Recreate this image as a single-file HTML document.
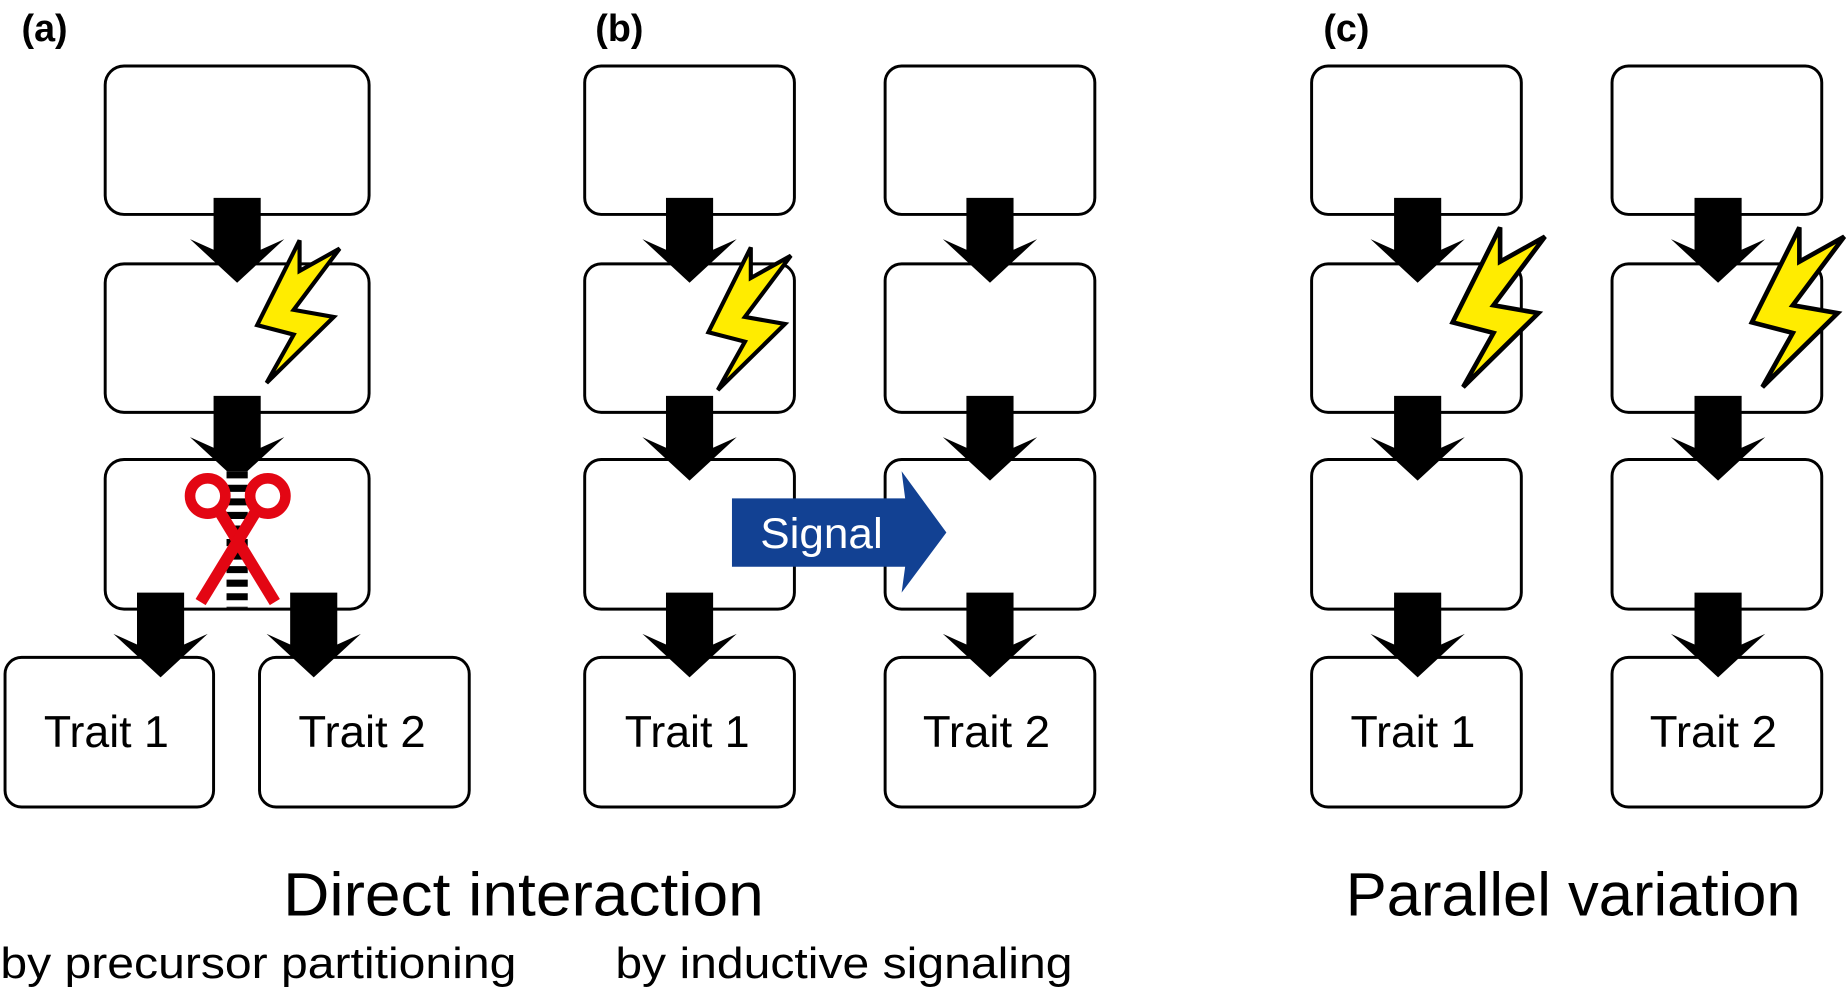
<!DOCTYPE html>
<html><head><meta charset="utf-8"><style>html,body{margin:0;padding:0;background:#fff;overflow:hidden}svg{display:block}</style></head>
<body>
<svg width="1848" height="992" viewBox="0 0 1568 842" xmlns="http://www.w3.org/2000/svg" font-family="Liberation Sans, DejaVu Sans, sans-serif">
<defs>
<polygon id="ar" points="-20,0 20,0 20,44 40,35 0,72 -40,35 -20,44" fill="#000"/>
<polygon id="lt" points="254,204 254,230 288,211 249,263 283,269 226,325 249,284 218,276" fill="#ffec00" stroke="#000" stroke-width="3.5" stroke-linejoin="miter"/>
</defs>
<g fill="#fff" stroke="#000" stroke-width="2.5">
<rect x="89" y="56" width="224" height="126" rx="16"/>
<rect x="89" y="224" width="224" height="126" rx="16"/>
<rect x="89" y="390" width="224" height="127" rx="16"/>
<rect x="4" y="558" width="177" height="127" rx="14"/>
<rect x="220" y="558" width="178" height="127" rx="14"/>
<rect x="496" y="56" width="178" height="126" rx="14"/>
<rect x="496" y="224" width="178" height="126" rx="14"/>
<rect x="496" y="390" width="178" height="127" rx="14"/>
<rect x="496" y="558" width="178" height="127" rx="14"/>
<rect x="751" y="56" width="178" height="126" rx="14"/>
<rect x="751" y="224" width="178" height="126" rx="14"/>
<rect x="751" y="390" width="178" height="127" rx="14"/>
<rect x="751" y="558" width="178" height="127" rx="14"/>
<rect x="1113" y="56" width="178" height="126" rx="14"/>
<rect x="1113" y="224" width="178" height="126" rx="14"/>
<rect x="1113" y="390" width="178" height="127" rx="14"/>
<rect x="1113" y="558" width="178" height="127" rx="14"/>
<rect x="1368" y="56" width="178" height="126" rx="14"/>
<rect x="1368" y="224" width="178" height="126" rx="14"/>
<rect x="1368" y="390" width="178" height="127" rx="14"/>
<rect x="1368" y="558" width="178" height="127" rx="14"/>
</g>
<!-- arrows -->
<use href="#ar" x="201" y="168"/><use href="#ar" x="201" y="336"/>
<use href="#ar" x="136" y="503"/><use href="#ar" x="266" y="503"/>
<use href="#ar" x="585" y="168"/><use href="#ar" x="585" y="336"/><use href="#ar" x="585" y="503"/>
<use href="#ar" x="840" y="168"/><use href="#ar" x="840" y="336"/><use href="#ar" x="840" y="503"/>
<use href="#ar" x="1203" y="168"/><use href="#ar" x="1203" y="336"/><use href="#ar" x="1203" y="503"/>
<use href="#ar" x="1458" y="168"/><use href="#ar" x="1458" y="336"/><use href="#ar" x="1458" y="503"/>
<!-- lightning -->
<use href="#lt"/>
<use href="#lt" x="383" y="6"/>
<g transform="translate(1273,193) scale(1.12) translate(-254,-204)"><use href="#lt"/></g>
<g transform="translate(1527,193) scale(1.12) translate(-254,-204)"><use href="#lt"/></g>
<!-- ladder -->
<rect x="192" y="400" width="18" height="116" fill="#fff"/>
<g stroke="#000" stroke-width="18" stroke-dasharray="6,5.5"><line x1="201" y1="400" x2="201" y2="516"/></g>
<!-- scissors -->
<g stroke="#e30613" fill="none">
<circle cx="176" cy="421" r="15" stroke-width="9"/>
<circle cx="227" cy="421" r="15" stroke-width="9"/>
<line x1="186" y1="434" x2="233" y2="511" stroke-width="10"/>
<line x1="217" y1="434" x2="170" y2="511" stroke-width="10"/>
</g>
<!-- signal -->
<polygon points="621,423 768,423 765,400 803,452 765,503 768,481 621,481" fill="#124193"/>
<text x="697" y="465" font-size="36" fill="#fff" text-anchor="middle" textLength="104" lengthAdjust="spacingAndGlyphs">Signal</text>
<!-- labels -->
<g font-weight="bold" font-size="32">
<text x="18" y="35">(a)</text><text x="505" y="35">(b)</text><text x="1123" y="35">(c)</text>
</g>
<g font-size="38" text-anchor="middle">
<text x="90" y="634" textLength="106" lengthAdjust="spacingAndGlyphs">Trait 1</text>
<text x="307" y="634" textLength="108" lengthAdjust="spacingAndGlyphs">Trait 2</text>
<text x="583" y="634" textLength="106" lengthAdjust="spacingAndGlyphs">Trait 1</text>
<text x="837" y="634" textLength="108" lengthAdjust="spacingAndGlyphs">Trait 2</text>
<text x="1199" y="634" textLength="106" lengthAdjust="spacingAndGlyphs">Trait 1</text>
<text x="1454" y="634" textLength="108" lengthAdjust="spacingAndGlyphs">Trait 2</text>
</g>
<text x="240" y="777" font-size="52" textLength="408" lengthAdjust="spacingAndGlyphs">Direct interaction</text>
<text x="1142" y="777" font-size="52" textLength="386" lengthAdjust="spacingAndGlyphs">Parallel variation</text>
<text x="0" y="830" font-size="37" textLength="438" lengthAdjust="spacingAndGlyphs">by precursor partitioning</text>
<text x="522" y="830" font-size="37" textLength="388" lengthAdjust="spacingAndGlyphs">by inductive signaling</text>
</svg>
</body></html>
